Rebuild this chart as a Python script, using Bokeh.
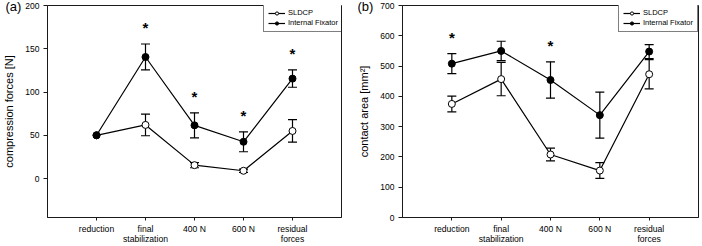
from bokeh.plotting import figure
from bokeh.layouts import row
from bokeh.models import (ColumnDataSource, Whisker, TeeHead, Legend, LegendItem,
                          FixedTicker, Title)
from bokeh.embed import file_html
from bokeh.resources import INLINE
from bokeh.core.properties import value

# ---- data -------------------------------------------------------------
categories = ["reduction", "final\nstabilization", "400 N", "600 N", "residual\nforces"]

# (a) compression forces [N]
force_sldcp = [50, 62, 15.5, 9, 55]
force_sldcp_err = [0, 12.5, 3, 2, 13]
force_fixator = [50, 140.5, 61.5, 42.5, 115.5]
force_fixator_err = [0, 15, 14.5, 11.5, 10]
force_significant = [False, True, True, True, True]

# (b) contact area [mm²]
area_sldcp = [375, 457, 208, 155, 473]
area_sldcp_err = [26, 55, 21, 26, 48]
area_fixator = [508, 550, 454, 338, 548]
area_fixator_err = [33, 32, 60, 76, 23]
area_significant = [True, False, True, False, False]

FONT = "Liberation Sans"


def whiskers(p, xs, ys, errs):
    keep = [i for i, e in enumerate(errs) if e > 0]
    src = ColumnDataSource(dict(
        x=[xs[i] for i in keep],
        upper=[ys[i] + errs[i] for i in keep],
        lower=[ys[i] - errs[i] for i in keep],
    ))
    w = Whisker(source=src, base="x", upper="upper", lower="lower",
                line_color="black", line_width=1.2, level="underlay",
                upper_head=TeeHead(size=9, line_color="black", line_width=1.2),
                lower_head=TeeHead(size=9, line_color="black", line_width=1.2))
    p.add_layout(w)


def panel(tag, ylabel, y_range, yticks, sldcp, sldcp_err, fix, fix_err,
          signif, star_gap, width, border_left, border_right, tag_left):
    p = figure(width=width, height=246, x_range=(-1, 5), y_range=y_range,
               output_backend="svg", toolbar_location=None, title=None,
               min_border_left=border_left, min_border_right=border_right,
               min_border_top=5, min_border_bottom=26)
    p.background_fill_color = "white"
    p.border_fill_color = "white"
    p.outline_line_color = "#1a1a1a"
    p.outline_line_width = 1
    p.xgrid.visible = False
    p.ygrid.visible = False

    xs = list(range(len(categories)))

    # axes
    p.xaxis.ticker = FixedTicker(ticks=xs)
    p.xaxis.major_label_overrides = {i: c for i, c in enumerate(categories)}
    p.yaxis.ticker = FixedTicker(ticks=yticks)
    for ax in (p.xaxis[0], p.yaxis[0]):
        ax.axis_line_color = "#1a1a1a"
        ax.major_tick_line_color = "#1a1a1a"
        ax.minor_tick_line_color = None
        ax.major_tick_in = 0
        ax.major_tick_out = 4
        ax.major_label_text_font = FONT
        ax.major_label_text_color = "black"
    p.xaxis.major_label_text_font_size = "8.6px"
    p.xaxis.major_label_text_line_height = 1.0
    p.xaxis.major_label_standoff = 3
    p.xaxis.major_tick_out = 3
    p.yaxis.major_label_text_font_size = "8.5px"
    p.yaxis.major_label_standoff = 4
    p.yaxis.axis_label = ylabel
    p.yaxis.axis_label_text_font = FONT
    p.yaxis.axis_label_text_font_style = "normal"
    p.yaxis.axis_label_text_font_size = "11px"
    p.yaxis.axis_label_text_color = "black"
    p.yaxis.axis_label_standoff = 7

    # error bars
    whiskers(p, xs, sldcp, sldcp_err)
    whiskers(p, xs, fix, fix_err)

    # series
    l_fix = p.line(xs, fix, line_color="black", line_width=1.2)
    l_sl = p.line(xs, sldcp, line_color="black", line_width=1.2)
    m_sl = p.scatter(xs, sldcp, marker="circle", size=7, fill_color="white",
                     line_color="black", line_width=1)
    m_fix = p.scatter(xs, fix, marker="circle", size=7, fill_color="black",
                      line_color="black", line_width=1)

    # significance marks above the upper error bar of the fixator series
    sx = [i for i in xs if signif[i]]
    sy = [fix[i] + fix_err[i] + star_gap for i in sx]
    p.text(sx, sy, text=["*"] * len(sx), text_font=value(FONT),
           text_font_size="15px", text_font_style="bold", text_color="black",
           text_align="center", text_baseline="alphabetic", y_offset=0)

    legend = Legend(items=[LegendItem(label="SLDCP", renderers=[l_sl, m_sl]),
                           LegendItem(label="Internal Fixator", renderers=[l_fix, m_fix])],
                    location=(216, 185), orientation="vertical",
                    padding=4, spacing=1, margin=0,
                    glyph_width=17, glyph_height=8, label_height=8,
                    label_standoff=3, label_text_font=FONT,
                    label_text_font_size="7.5px", label_text_color="black",
                    label_text_baseline="middle",
                    border_line_color="black", border_line_width=1,
                    background_fill_color="white", background_fill_alpha=1)
    p.add_layout(legend)

    # panel tag in the top-left corner, left of the y axis
    p.add_layout(Title(text=tag, align="left", offset=-(border_left - tag_left),
                       standoff=-17, vertical_align="bottom",
                       text_font=FONT, text_font_size="13px",
                       text_font_style="normal", text_color="black"), "above")
    return p


pa = panel("(a)", "compression forces [N]", (-45, 200), [0, 50, 100, 150, 200],
           force_sldcp, force_sldcp_err, force_fixator, force_fixator_err,
           force_significant, 19, 352, 44, 11, 2)
pb = panel("(b)", "contact area [mm²]", (0, 700), [0, 100, 200, 300, 400, 500, 600, 700],
           area_sldcp, area_sldcp_err, area_fixator, area_fixator_err,
           area_significant, 53, 350, 50, 4, 5)

layout = row(pa, pb, spacing=0)
open("out.html", "w").write(file_html(layout, INLINE))
